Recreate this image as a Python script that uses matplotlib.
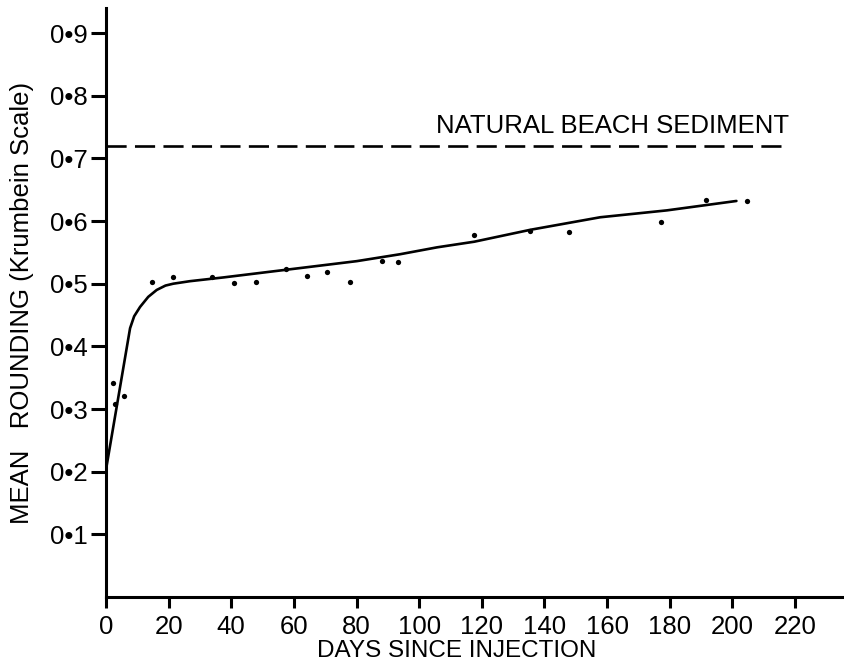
import matplotlib.pyplot as plt

# observed mean rounding values
days = [2.3, 2.9, 5.8, 14.7, 21.3, 33.8, 41.0, 47.9, 57.5, 64.3, 70.5,
        77.8, 88.2, 93.1, 117.6, 135.5, 147.7, 177.2, 191.7, 204.7]
rounding = [0.342, 0.308, 0.321, 0.502, 0.511, 0.511, 0.501, 0.503, 0.524,
            0.512, 0.519, 0.502, 0.536, 0.534, 0.578, 0.584, 0.582, 0.599,
            0.634, 0.632]

# hand-drawn trend curve
curve_days = [0, 7.7, 9.0, 10.9, 13.5, 16.2, 19.0, 21.5, 26.8, 37.5, 58.8,
              80.1, 93.9, 105.7, 117.6, 135.5, 157.8, 179.1, 201.3]
curve_rounding = [0.203, 0.429, 0.448, 0.463, 0.479, 0.490, 0.497, 0.500,
                  0.504, 0.510, 0.523, 0.536, 0.547, 0.558, 0.567, 0.586,
                  0.606, 0.617, 0.632]

beach_level = 0.72
beach_end = 218

x_ticks = [0, 20, 40, 60, 80, 100, 120, 140, 160, 180, 200, 220]
y_ticks = [0.1, 0.2, 0.3, 0.4, 0.5, 0.6, 0.7, 0.8, 0.9]
y_tick_labels = ["0•1", "0•2", "0•3", "0•4", "0•5", "0•6", "0•7", "0•8",
                 "0•9"]


def main():
    plt.rcParams["font.family"] = ["Liberation Sans", "DejaVu Sans"]
    plt.rcParams["lines.scale_dashes"] = False
    fs = 18.5

    fig = plt.figure(figsize=(8.45, 6.63), dpi=100)
    ax = fig.add_axes([0.1254, 0.0995, 0.871, 0.8885])

    ax.plot(curve_days, curve_rounding, color="black", lw=1.9,
            solid_capstyle="round")
    ax.plot(days, rounding, "o", color="black", ms=3.8, mew=0)
    ax.plot([0, beach_end], [beach_level, beach_level], color="black",
            lw=1.9, dashes=(14.5, 6))
    ax.text(beach_end, beach_level + 0.021, "NATURAL BEACH SEDIMENT",
            ha="right", va="baseline", fontsize=fs)

    ax.set_xlim(0, 235)
    ax.set_ylim(0, 0.94)
    ax.set_xticks(x_ticks)
    ax.set_yticks(y_ticks)
    ax.set_yticklabels(y_tick_labels)
    ax.tick_params(axis="x", length=8, width=2.2, labelsize=fs, pad=5)
    ax.tick_params(axis="y", length=11, width=2.2, labelsize=fs, pad=2)

    for side in ["top", "right"]:
        ax.spines[side].set_visible(False)
    for side in ["left", "bottom"]:
        ax.spines[side].set_linewidth(2.2)

    ax.set_xlabel("DAYS SINCE INJECTION", fontsize=17.5, va="bottom")
    ax.xaxis.set_label_coords(0.477, -0.111)
    ax.set_ylabel("MEAN   ROUNDING (Krumbein Scale)", fontsize=fs)
    ax.yaxis.set_label_coords(-0.098, 0.5)

    fig.savefig("out.png", dpi=100)


if __name__ == "__main__":
    main()
